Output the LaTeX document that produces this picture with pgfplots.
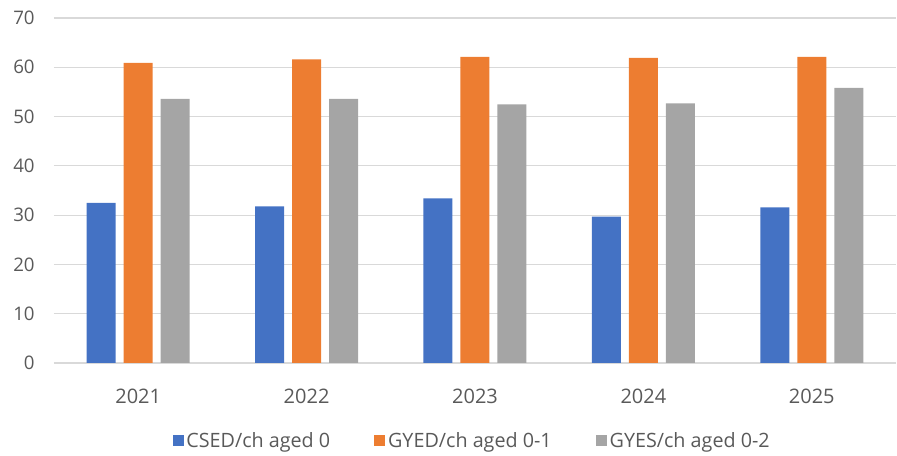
\documentclass[border=0pt]{standalone}
\usepackage{pgfplots}
\pgfplotsset{compat=1.18}
\usepackage{fontspec}
\setmainfont{Open Sans}
\definecolor{cblue}{HTML}{4472C4}
\definecolor{corange}{HTML}{ED7D31}
\definecolor{cgray}{HTML}{A5A5A5}
\definecolor{txt}{HTML}{595959}
\definecolor{gridc}{HTML}{D9D9D9}
\begin{document}
\begin{tikzpicture}[x=0.75pt,y=0.75pt]
\useasboundingbox (-54,-93) rectangle (843,363);
\begin{axis}[
  at={(0,0)}, anchor=south west,
  scale only axis,
  width=631.5pt, height=258.75pt,
  ymin=0, ymax=70, ytick={0,10,...,70},
  xmin=-0.5, xmax=4.5,
  xtick={0,1,2,3,4},
  xticklabels={2021,2022,2023,2024,2025},
  ybar=6pt, bar width=21.75pt,
  axis line style={draw=none},
  xmajorgrids=false,
  ymajorgrids, grid style={draw=gridc, line width=0.8pt},
  major tick length=0pt,
  xtick style={draw=none}, ytick style={draw=none},
  ticklabel style={text=txt},
  yticklabel style={font=\fontsize{14}{16}\selectfont, xshift=-11pt},
  xticklabel style={font=\fontsize{15}{17}\selectfont, yshift=-16pt},
  /pgf/number format/assume math mode=true,
  legend style={at={(0.497,-0.225)}, anchor=center, draw=none, fill=none, legend columns=3,
    font=\fontsize{14.8}{17}\selectfont, text=txt,
    /tikz/every odd column/.append style={column sep=0pt},
    /tikz/every even column/.append style={column sep=31pt},
    nodes={inner xsep=2pt}},
  legend image code/.code={\fill[#1] (0pt,-4.2pt) rectangle (8.4pt,4.2pt);},
  clip=false,
]
\addplot[draw=none, fill=cblue] coordinates {(0,32.5) (1,31.8) (2,33.4) (3,29.7) (4,31.6)};
\addplot[draw=none, fill=corange] coordinates {(0,60.9) (1,61.6) (2,62.1) (3,61.9) (4,62.1)};
\addplot[draw=none, fill=cgray] coordinates {(0,53.6) (1,53.6) (2,52.5) (3,52.7) (4,55.8)};
\legend{CSED/ch aged 0, GYED/ch aged 0-1, GYES/ch aged 0-2}
\end{axis}
\end{tikzpicture}
\end{document}
